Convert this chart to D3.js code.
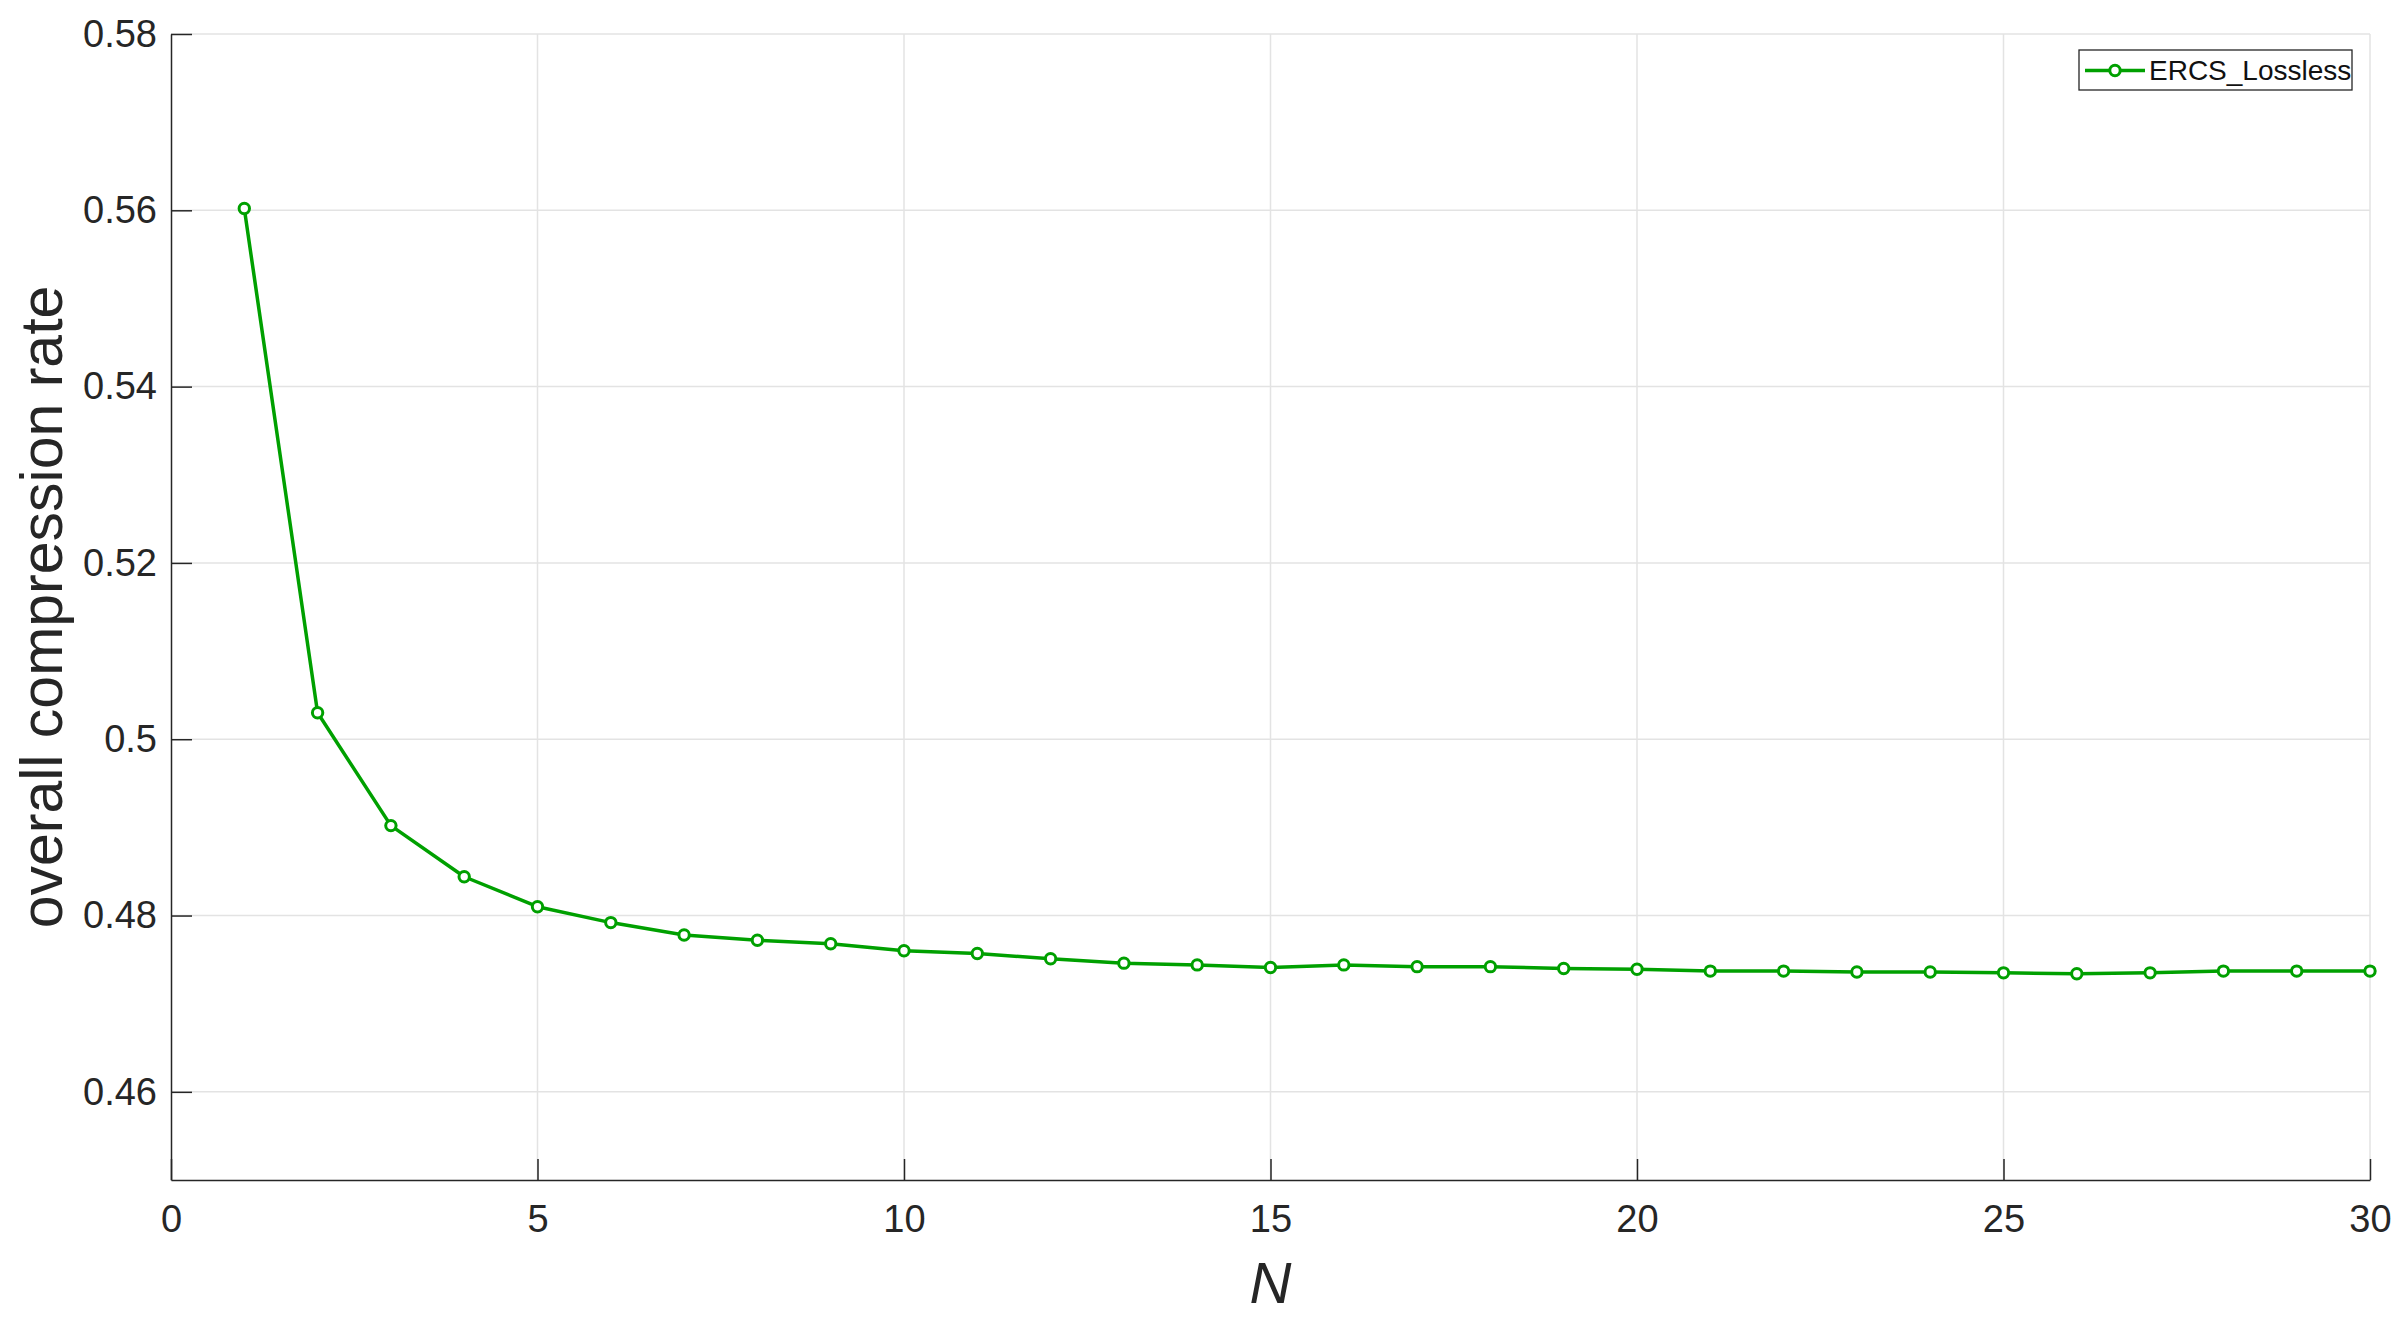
<!DOCTYPE html>
<html>
<head>
<meta charset="utf-8">
<script src="https://cdn.jsdelivr.net/npm/d3@7"></script>
<style>
    body { margin: 0; background: #ffffff; }
    svg { display: block; font-family: Arial, "Liberation Sans", sans-serif; }
</style>
</head>
<body>
<div id="chart"></div>
<script>

// N values and the compression rate
let nValues = [1, 2, 3, 4, 5, 6, 7, 8, 9, 10,
    11, 12, 13, 14, 15, 16, 17, 18, 19, 20,
    21, 22, 23, 24, 25, 26, 27, 28, 29, 30];
let rateValues = [0.5602, 0.5030, 0.4902, 0.4844, 0.4810, 0.4792, 0.4778, 0.4772, 0.4768, 0.4760,
    0.4757, 0.4751, 0.4746, 0.4744, 0.4741, 0.4744, 0.4742, 0.4742, 0.4740, 0.4739,
    0.4737, 0.4737, 0.4736, 0.4736, 0.4735, 0.4734, 0.4735, 0.4737, 0.4737, 0.4737];

let xTicks = [0, 5, 10, 15, 20, 25, 30];
let yTicks = [0.46, 0.48, 0.5, 0.52, 0.54, 0.56, 0.58];
let seriesName = "ERCS_Lossless";

// set the dimensions and margins of the graph
let margin = {top: 34, right: 31, bottom: 141, left: 171},
    width = 2401 - margin.left - margin.right,
    height = 1321 - margin.top - margin.bottom;

let green = "#00a000",
    axisColor = "#262626",
    gridColor = "#e3e3e3";

let SVG = d3.select("#chart")
    .append("svg")
    .attr("width", width + margin.left + margin.right)
    .attr("height", height + margin.top + margin.bottom)
    .append("g")
    .attr("transform", "translate(" + margin.left + "," + margin.top + ")");

// scales
let x = d3.scaleLinear()
    .domain([0, 30])
    .range([0, width]);

let y = d3.scaleLinear()
    .domain([0.45, 0.58])
    .range([height, 0]);

// grid
SVG.append("g")
    .selectAll("line")
    .data(xTicks.filter(function (d) { return d > 0; }))
    .enter().append("line")
    .attr("x1", function (d) { return x(d); })
    .attr("x2", function (d) { return x(d); })
    .attr("y1", 0)
    .attr("y2", height)
    .attr("stroke", gridColor)
    .attr("stroke-width", 1.5);

SVG.append("g")
    .selectAll("line")
    .data(yTicks)
    .enter().append("line")
    .attr("x1", 0)
    .attr("x2", width)
    .attr("y1", function (d) { return y(d); })
    .attr("y2", function (d) { return y(d); })
    .attr("stroke", gridColor)
    .attr("stroke-width", 1.5);

// X axis (ticks inward)
let xAxis = SVG.append("g")
    .attr("transform", "translate(0," + height + ")")
    .call(d3.axisBottom(x).tickValues(xTicks).tickSize(-21).tickPadding(25).tickSizeOuter(0));

// Y axis (ticks inward)
let yAxis = SVG.append("g")
    .call(d3.axisLeft(y).tickValues(yTicks).tickFormat(d3.format("~g")).tickSize(-21).tickPadding(14).tickSizeOuter(0));

[xAxis, yAxis].forEach(function (ax) {
    ax.select(".domain").attr("stroke", axisColor).attr("stroke-width", 1.5);
    ax.selectAll(".tick line").attr("stroke", axisColor).attr("stroke-width", 1.5);
    ax.selectAll(".tick text")
        .attr("fill", axisColor)
        .style("font-size", "38px")
        .style("font-family", "Arial, 'Liberation Sans', sans-serif");
});

// axis labels
SVG.append("text")
    .attr("text-anchor", "middle")
    .attr("x", width / 2)
    .attr("y", height + 123)
    .style("font-size", "58px")
    .style("font-style", "italic")
    .attr("fill", axisColor)
    .text("N");

SVG.append("text")
    .attr("text-anchor", "middle")
    .attr("transform", "rotate(-90)")
    .attr("x", -height / 2)
    .attr("y", -margin.left + 62)
    .style("font-size", "59px")
    .attr("fill", axisColor)
    .text("overall compression rate");

// line + markers
let data = d3.zip(nValues, rateValues);

SVG.append("path")
    .datum(data)
    .attr("fill", "none")
    .attr("stroke", green)
    .attr("stroke-width", 3.5)
    .attr("stroke-linejoin", "round")
    .attr("d", d3.line()
        .x(function (d) { return x(d[0]); })
        .y(function (d) { return y(d[1]); }));

SVG.append("g")
    .selectAll("circle")
    .data(data)
    .enter().append("circle")
    .attr("cx", function (d) { return x(d[0]); })
    .attr("cy", function (d) { return y(d[1]); })
    .attr("r", 5.2)
    .attr("fill", "white")
    .attr("stroke", green)
    .attr("stroke-width", 3);

// legend
let legend = SVG.append("g")
    .attr("transform", "translate(" + (width - 291) + ",16)");

legend.append("rect")
    .attr("width", 273)
    .attr("height", 40)
    .attr("fill", "white")
    .attr("stroke", axisColor)
    .attr("stroke-width", 1.3);

legend.append("line")
    .attr("x1", 6)
    .attr("x2", 66)
    .attr("y1", 20.5)
    .attr("y2", 20.5)
    .attr("stroke", green)
    .attr("stroke-width", 3.5);

legend.append("circle")
    .attr("cx", 36)
    .attr("cy", 20.5)
    .attr("r", 5.2)
    .attr("fill", "white")
    .attr("stroke", green)
    .attr("stroke-width", 3);

legend.append("text")
    .attr("x", 70)
    .attr("y", 30)
    .style("font-size", "28px")
    .attr("fill", "#111")
    .text(seriesName);

</script>
</body>
</html>
